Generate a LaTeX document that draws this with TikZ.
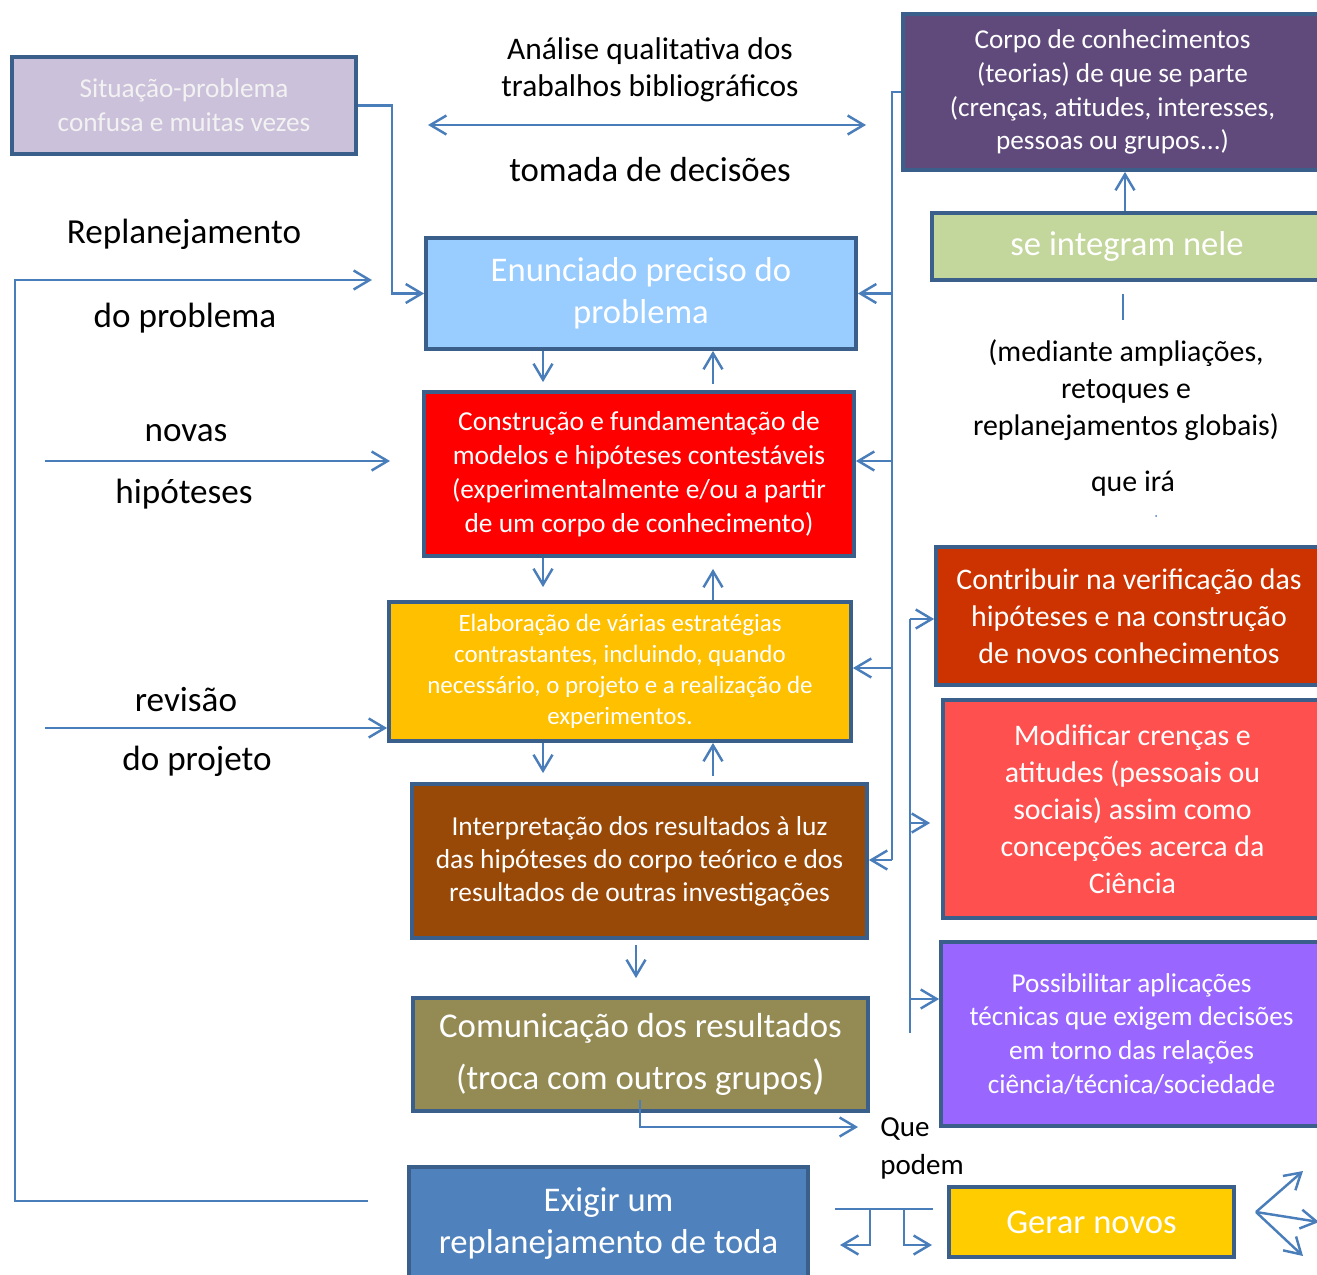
\documentclass[tikz,border=0pt]{standalone}
\usepackage{fontspec}
\setmainfont{Carlito}
\usetikzlibrary{arrows.meta}
\definecolor{lineblue}{HTML}{4A7EBB}
\definecolor{bord}{HTML}{3A5F8B}
\definecolor{csit}{HTML}{CCC1DA}
\definecolor{cenun}{HTML}{99CCFF}
\definecolor{ccons}{HTML}{FF0000}
\definecolor{celab}{HTML}{FFC000}
\definecolor{cinterp}{HTML}{984807}
\definecolor{ccomun}{HTML}{948A54}
\definecolor{cexig}{HTML}{4F81BD}
\definecolor{ccorpo}{HTML}{604A7B}
\definecolor{cinteg}{HTML}{C3D69B}
\definecolor{ccontrib}{HTML}{CC3300}
\definecolor{cmodif}{HTML}{FF5050}
\definecolor{cposs}{HTML}{9966FF}
\definecolor{cgerar}{HTML}{FFCC00}
\newcommand\fsz[2]{\fontsize{#1}{#2}\selectfont}
\begin{document}
\begin{tikzpicture}[x=0.02cm,y=-0.02cm,
  >={Straight Barb[length=0.32cm,width=0.38cm]},
  box/.style={draw=bord, line width=2.2pt, text=white, align=center, inner sep=0pt},
  lbl/.style={inner sep=0pt, text=black, align=center},
  conn/.style={draw=lineblue, line width=1.4pt},
  arr/.style={conn, ->}]
\useasboundingbox (0,0) rectangle (1317,1274);

% boxes
\node[box, fill=csit, text=white!95!black, minimum width=6.88cm, minimum height=1.94cm, font=\fsz{15.5}{19.3}] (sit) at (184,105.5) {Situação-problema\\confusa e muitas vezes};
\node[box, fill=cenun, minimum width=8.6cm, minimum height=2.22cm, font=\fsz{19.7}{23.8}] (enun) at (641,293.5) {Enunciado preciso do\\problema};
\node[box, fill=ccons, minimum width=8.6cm, minimum height=3.28cm, font=\fsz{15.6}{19.3}] (cons) at (639,474) {Construção e fundamentação de\\modelos e hipóteses contestáveis\\(experimentalmente e/ou a partir\\de um corpo de conhecimento)};
\node[box, fill=celab, minimum width=9.24cm, minimum height=2.78cm, font=\fsz{14.2}{17.6}] (elab) at (620,671.5) {Elaboração de várias estratégias\\contrastantes, incluindo, quando\\necessário, o projeto e a realização de\\experimentos.};
\node[box, fill=cinterp, minimum width=9.1cm, minimum height=3.08cm, font=\fsz{15.6}{18.7}] (interp) at (639.5,861) {Interpretação dos resultados à luz\\das hipóteses do corpo teórico e dos\\resultados de outras investigações};
\node[box, fill=ccomun, minimum width=9.1cm, minimum height=2.26cm, font=\fsz{19.8}{29.5}] (comun) at (640.5,1054.5) {Comunicação dos resultados\\(troca com outros grupos{\fsz{24}{24})}};
\node[box, fill=cexig, minimum width=7.98cm, minimum height=2.26cm, font=\fsz{19.7}{24.4}] (exig) at (608.5,1223.5) {Exigir um\\replanejamento de toda};
\node[box, fill=ccorpo, minimum width=8.38cm, minimum height=3.12cm, font=\fsz{15.5}{19.3}] (corpo) at (1112.5,92) {Corpo de conhecimentos\\(teorias) de que se parte\\(crenças, atitudes, interesses,\\pessoas ou grupos...)};
\node[box, fill=cinteg, minimum width=7.8cm, minimum height=1.34cm, font=\fsz{19.7}{23}] (integ) at (1127,246.5) {se integram nele};
\node[box, fill=ccontrib, minimum width=7.72cm, minimum height=2.76cm, font=\fsz{17}{21}] (contrib) at (1129,616) {Contribuir na verificação das\\hipóteses e na construção\\de novos conhecimentos};
\node[box, fill=cmodif, minimum width=7.58cm, minimum height=4.36cm, font=\fsz{17}{21}] (modif) at (1132.5,809) {Modificar crenças e\\atitudes (pessoais ou\\sociais) assim como\\concepções acerca da\\Ciência};
\node[box, fill=cposs, minimum width=7.62cm, minimum height=3.68cm, font=\fsz{15.5}{19.3}] (poss) at (1131.5,1034) {Possibilitar aplicações\\técnicas que exigem decisões\\em torno das relações\\ciência/técnica/sociedade};
\node[box, fill=cgerar, minimum width=5.7cm, minimum height=1.4cm, font=\fsz{19.7}{23}] (gerar) at (1091.5,1222) {Gerar novos};

% free labels
\node[lbl, font=\fsz{17.9}{21}] (tAn) at (650,69.5) {Análise qualitativa dos\\trabalhos bibliográficos};
\node[lbl, font=\fsz{19.8}{24}] (tTom) at (650,170) {tomada de decisões};
\node[lbl, font=\fsz{20}{24}] (tRep) at (184,234) {Replanejamento};
\node[lbl, font=\fsz{20}{24}] (tDoP) at (185,318) {do problema};
\node[lbl, font=\fsz{20}{24}] (tNov) at (186,433) {novas};
\node[lbl, font=\fsz{20}{24}] (tHip) at (184,494) {hipóteses};
\node[lbl, font=\fsz{20}{24}] (tRev) at (186,700) {revisão};
\node[lbl, font=\fsz{20}{24}] (tDoPr) at (197,761) {do projeto};
\node[lbl, font=\fsz{17}{21}] (tMed) at (1126,390) {(mediante ampliações,\\retoques e\\replanejamentos globais)};
\node[lbl, font=\fsz{17}{21}] (tIra) at (1133,484) {que irá};
\node[lbl, font=\fsz{16.5}{21.5}, anchor=west] (tQue) at (880,1129) {Que};
\node[lbl, font=\fsz{16.5}{21.5}, anchor=west] (tPod) at (880,1167) {podem};
\fill[lineblue] (1156,516) circle (1);

% named free ends
\coordinate (dblL) at (428,125);
\coordinate (dblR) at (866,125);
\coordinate (loopS) at (368,1201);
\coordinate (loopC1) at (15,1201);
\coordinate (loopC2) at (15,280);
\coordinate (loopE) at (372,280);
\coordinate (novS) at (45,461);
\coordinate (novE) at (390,461);
\coordinate (revS) at (45,728);
\coordinate (cL) at (543,0);
\coordinate (cR) at (713,0);
\coordinate (cM) at (636,0);
\coordinate (bus1) at (892,0);
\coordinate (bus2) at (910,0);
\coordinate (upX) at (1125,0);
\coordinate (tickA) at (1123,294);
\coordinate (tickB) at (1123,320);
\coordinate (comX) at (640,1100);
\coordinate (queE) at (858,1127);
\coordinate (brL) at (835,1209);
\coordinate (brR) at (933,1209);
\coordinate (brA) at (870,1209);
\coordinate (brAe) at (840,1245);
\coordinate (brB) at (904,1209);
\coordinate (brBe) at (932,1245);
\coordinate (fan) at (1256,1212);
\coordinate (fan1) at (1303,1171);
\coordinate (fan2) at (1319,1222);
\coordinate (fan3) at (1303,1256);

% connectors
\draw[arr] (sit.east) -- ++(34,0) |- (enun.west);
\draw[conn, <->] (dblL) -- (dblR);
\draw[arr] (loopS) -- (loopC1) -- (loopC2) -- (loopE);
\draw[arr] (novS) -- (novE);
\draw[arr] (revS) -- (elab.west |- revS);

\draw[arr, shorten >=0.16cm] (enun.south -| cL) -- (cons.north -| cL);
\draw[arr, shorten <=0.12cm] (cons.north -| cR) -- (enun.south -| cR);
\draw[arr, shorten >=0.26cm] (cons.south -| cL) -- (elab.north -| cL);
\draw[arr, shorten >=0.22cm] (elab.north -| cR) -- (cons.south -| cR);
\draw[arr, shorten >=0.18cm] (elab.south -| cL) -- (interp.north -| cL);
\draw[arr, shorten <=0.12cm] (interp.north -| cR) -- (elab.south -| cR);
\draw[arr, shorten <=0.1cm, shorten >=0.36cm] (interp.south -| cM) -- (comun.north -| cM);

\draw[conn] (corpo.west |- 0,92) -- (bus1 |- 0,92) -- (bus1 |- 0,860);
\draw[arr] (bus1 |- enun.east) -- (enun.east);
\draw[arr] (bus1 |- 0,461) -- (cons.east |- 0,461);
\draw[arr] (bus1 |- 0,668) -- (elab.east |- 0,668);
\draw[arr] (bus1 |- 0,860) -- (interp.east |- 0,860);

\draw[conn] (bus2 |- 0,619) -- (bus2 |- 0,1033);
\draw[arr] (bus2 |- 0,619) -- (contrib.west |- 0,619);
\draw[arr, shorten >=0.22cm] (bus2 |- 0,823) -- (modif.west |- 0,823);
\draw[arr] (bus2 |- 0,999) -- (poss.west |- 0,999);

\draw[arr] (integ.north -| upX) -- (corpo.south -| upX);
\draw[conn] (tickA) -- (tickB);

\draw[arr] (comX) |- (queE);
\draw[conn] (brL) -- (brR);
\draw[arr] (brA) |- (brAe);
\draw[arr] (brB) |- (brBe);

\draw[arr] (fan) -- (fan1);
\draw[arr] (fan) -- (fan2);
\draw[arr] (fan) -- (fan3);
\end{tikzpicture}
\end{document}
